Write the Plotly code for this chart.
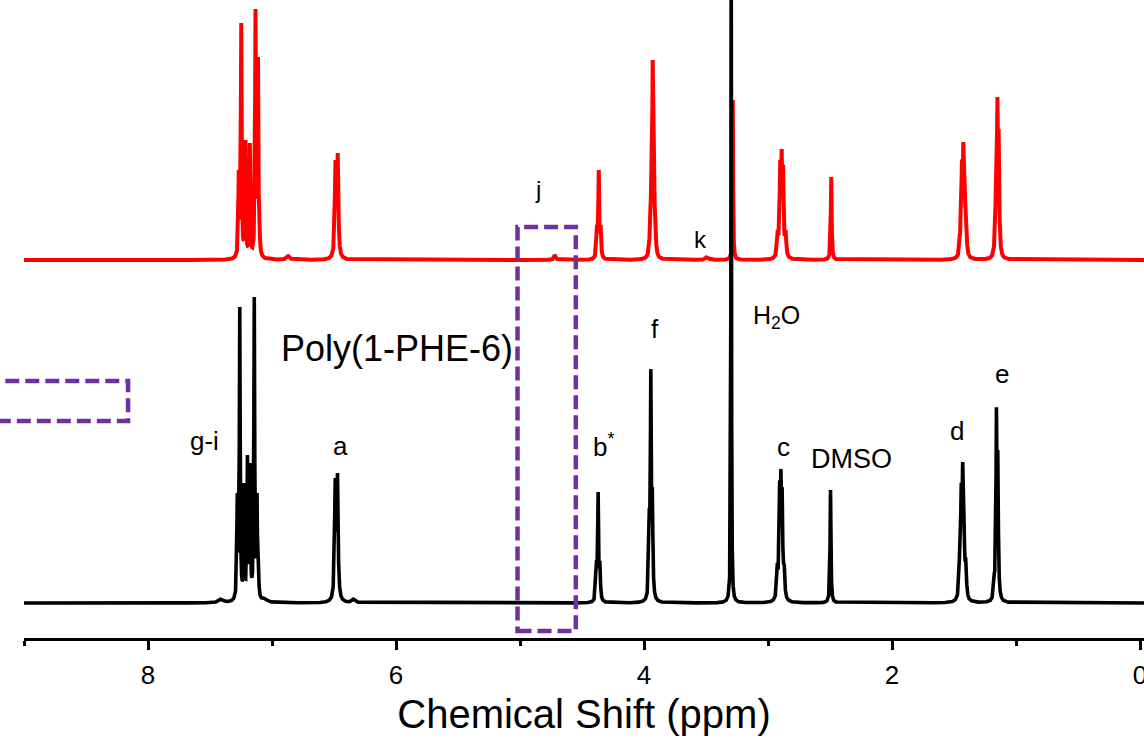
import numpy as np
import plotly.graph_objects as go

# ---- resonance tables: shift (ppm), peak height (a.u.), half width at half height (ppm)
poly_ppm = [7.410, 7.280, 7.260, 7.226, 7.198, 7.177, 7.143, 7.121, 7.109, 7.060,
            6.490, 6.472, 6.340,
            4.383, 4.370, 4.356,
            3.957, 3.945, 3.933,
            3.297,
            2.925, 2.906, 2.896, 2.886, 2.870,
            2.496,
            1.455, 1.442, 1.430, 1.420, 1.405,
            1.175, 1.158, 1.147, 1.138]
poly_int = [0.04, 1.10, 2.96, 1.20, 1.48, 1.40, 3.06, 1.10, 0.35, 0.05,
            1.25, 1.30, 0.04,
            0.42, 1.11, 0.42,
            0.95, 2.34, 1.15,
            7.00,
            0.40, 1.22, 1.34, 1.15, 0.40,
            1.13,
            0.50, 1.20, 1.41, 1.00, 0.45,
            0.30, 1.95, 1.50, 0.30]
poly_hw = [0.020, 0.004, 0.004, 0.004, 0.004, 0.004, 0.004, 0.004, 0.004, 0.020,
           0.006, 0.006, 0.015,
           0.005, 0.004, 0.005,
           0.005, 0.004, 0.005,
           0.0025,
           0.006, 0.005, 0.005, 0.005, 0.006,
           0.004,
           0.006, 0.005, 0.005, 0.005, 0.006,
           0.006, 0.004, 0.005, 0.006]

mono_ppm = [7.268, 7.248, 7.214, 7.179, 7.133, 7.113, 7.100,
            6.870, 6.488, 6.470,
            4.720,
            4.380, 4.365, 4.350,
            3.953, 3.941, 3.930, 3.919, 3.907,
            3.490, 3.284,
            2.922, 2.902, 2.890, 2.878, 2.858,
            2.490,
            1.450, 1.436, 1.425, 1.414, 1.400,
            1.172, 1.160, 1.150, 1.140, 1.128]
mono_int = [0.90, 2.37, 1.20, 1.17, 2.51, 2.03, 0.30,
            0.04, 1.00, 1.07,
            0.05,
            0.35, 0.90, 0.35,
            0.30, 0.90, 2.00, 1.00, 0.30,
            0.03, 1.60,
            0.30, 1.00, 1.11, 0.95, 0.30,
            0.83,
            0.30, 1.00, 1.18, 0.90, 0.30,
            0.25, 1.10, 1.63, 1.30, 0.25]
mono_hw = [0.004, 0.004, 0.004, 0.004, 0.004, 0.004, 0.004,
           0.015, 0.006, 0.006,
           0.008,
           0.005, 0.004, 0.005,
           0.006, 0.005, 0.004, 0.005, 0.006,
           0.015, 0.003,
           0.006, 0.005, 0.005, 0.005, 0.006,
           0.004,
           0.006, 0.005, 0.005, 0.005, 0.006,
           0.006, 0.005, 0.004, 0.005, 0.006]

mono_offset = 3.43   # vertical stacking of the upper spectrum

# peak labels: text, ppm, height
label_text = ["j", "k", "Poly(1-PHE-6)", "g-i", "a", "b<sup>*</sup>", "f",
              "H<sub>2</sub>O", "c", "DMSO", "d", "e"]
label_ppm = [4.859, 3.544, 5.996, 7.544, 6.448, 4.322, 3.915, 2.935, 2.875, 2.327, 1.480, 1.117]
label_y = [4.14, 3.64, 2.55, 1.62, 1.57, 1.58, 2.74, 2.86, 1.56, 1.44, 1.72, 2.29]
label_size = [24, 24, 36, 26, 26, 26, 26, 25, 26, 27, 26, 26]

ppm = np.linspace(-0.06, 9.06, 18241)


def spectrum(centers, heights, widths):
    """Sum of Lorentzian lines whose summed maxima equal the tabulated heights."""
    c = np.asarray(centers, float)
    h = np.asarray(heights, float)
    w = np.asarray(widths, float)
    k = w[None, :] ** 2 / ((c[:, None] - c[None, :]) ** 2 + w[None, :] ** 2)
    amp = np.clip(np.linalg.solve(k, h), 0, None)
    shape = w[None, :] ** 2 / ((ppm[:, None] - c[None, :]) ** 2 + w[None, :] ** 2)
    return shape @ amp


poly_y = spectrum(poly_ppm, poly_int, poly_hw)
mono_y = spectrum(mono_ppm, mono_int, mono_hw) + mono_offset

fig = go.Figure()
fig.add_trace(go.Scatter(x=ppm, y=mono_y, mode="lines", name="1-PHE-6",
                         line=dict(color="#ff0000", width=4.0)))
fig.add_trace(go.Scatter(x=ppm, y=poly_y, mode="lines", name="Poly(1-PHE-6)",
                         line=dict(color="#000000", width=3.6)))

for t, xp, yp, s in zip(label_text, label_ppm, label_y, label_size):
    fig.add_annotation(x=xp, y=yp, xref="x", yref="y", text=t, showarrow=False,
                       xanchor="center", yanchor="middle",
                       font=dict(family="Arial, Liberation Sans", size=s, color="#000000"))

purple = "#7030a0"
# highlight around the j resonance
fig.add_shape(type="rect", xref="x", yref="y", x0=5.02, x1=4.55, y0=-0.28, y1=3.76,
              line=dict(color=purple, width=4.5, dash="14px,6px"), layer="above")
# highlight box at the left edge
fig.add_shape(type="rect", xref="paper", yref="y", x0=-0.06, x1=0.0929, y0=1.82, y1=2.22,
              line=dict(color=purple, width=4.5, dash="14px,6px"), layer="above")

fig.update_layout(
    width=1144, height=743,
    margin=dict(l=24, r=0, t=0, b=105, autoexpand=False),
    paper_bgcolor="white", plot_bgcolor="white",
    showlegend=False,
    font=dict(family="Arial, Liberation Sans", color="#000000"),
    xaxis=dict(
        range=[9.0, -0.032], autorange=False,
        tickmode="linear", tick0=0, dtick=2,
        ticks="outside", ticklen=9, tickwidth=2.5, tickcolor="#000000",
        minor=dict(dtick=1, tick0=0, ticks="outside", ticklen=5, tickwidth=2.5,
                   tickcolor="#000000", showgrid=False),
        showline=True, linecolor="#000000", linewidth=2.5,
        showgrid=False, zeroline=False,
        ticklabeloverflow="allow", ticklabelstandoff=3,
        tickfont=dict(size=26, family="Arial, Liberation Sans"),
        title=dict(text="Chemical Shift (ppm)", standoff=12,
                   font=dict(size=40, family="Arial, Liberation Sans")),
    ),
    yaxis=dict(range=[-0.35, 6.03], autorange=False, visible=False),
)

fig.write_html("out.html")
